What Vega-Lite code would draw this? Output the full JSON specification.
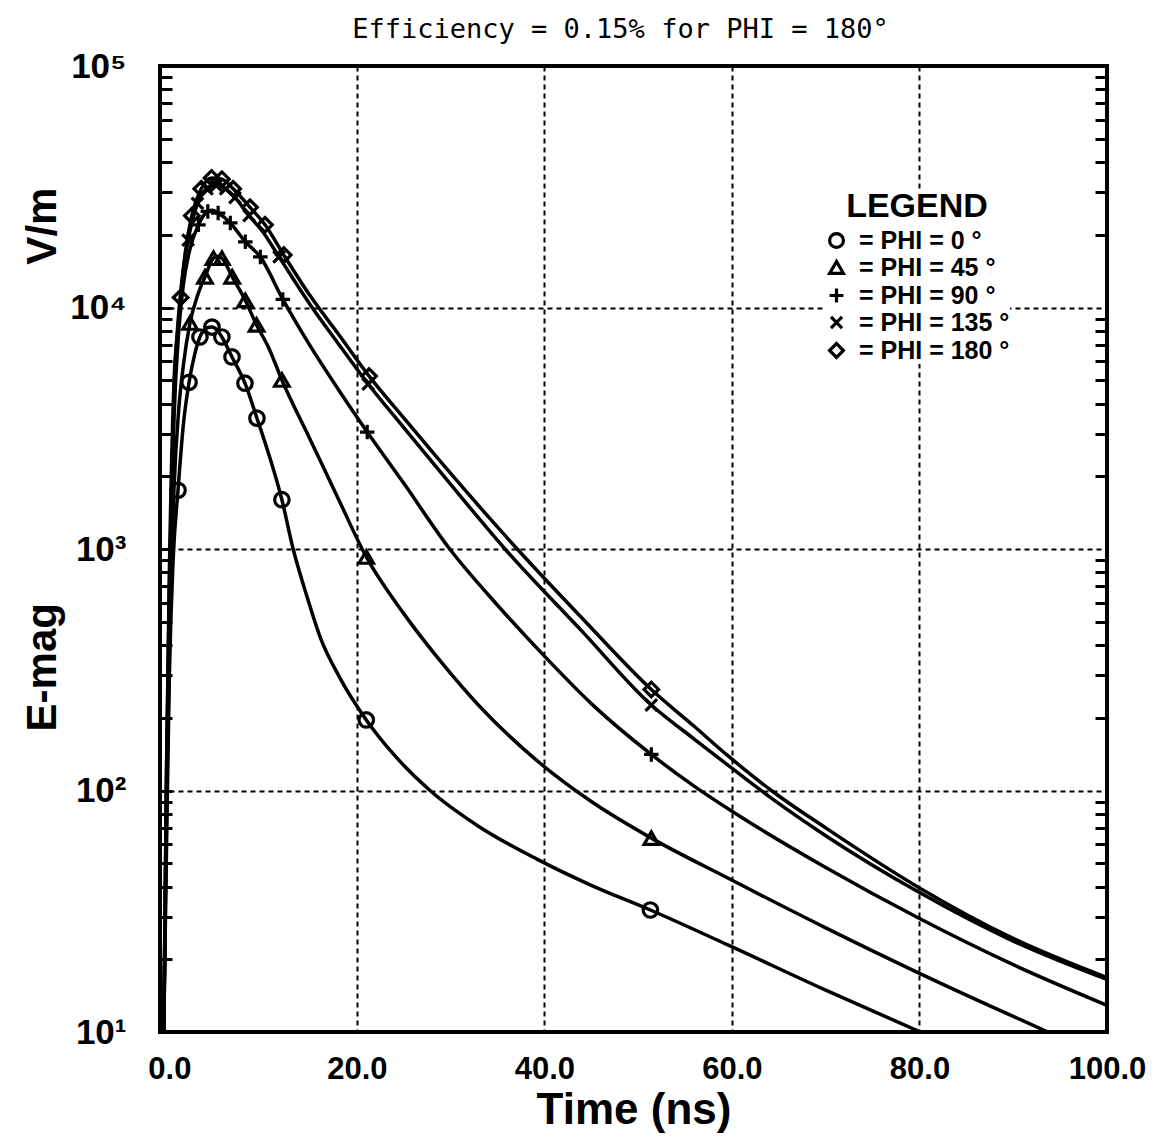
{
  "$schema": "https://vega.github.io/schema/vega-lite/v6.json",
  "width": 947,
  "height": 966,
  "autosize": {"type": "none"},
  "padding": {"left": 160, "top": 66, "right": 50, "bottom": 116},
  "background": "white",
  "title": {"text": "Efficiency = 0.15% for PHI = 180°", "font": "DejaVu Sans Mono", "fontSize": 27, "fontWeight": "normal", "color": "black", "anchor": "middle", "baseline": "bottom", "offset": -22, "dx": -13},
  "config": {"view": {"stroke": "black", "strokeWidth": 4}},
  "datasets": {
    "curves": [
      {"t": -0.6, "phi": 0, "v": 10}, {"t": -0.3, "phi": 0, "v": 60}, {"t": 0.0, "phi": 0, "v": 300}, {"t": 0.4, "phi": 0, "v": 900}, {"t": 0.92, "phi": 0, "v": 1750}, {"t": 1.5, "phi": 0, "v": 3300}, {"t": 2.1, "phi": 0, "v": 4900}, {"t": 2.7, "phi": 0, "v": 6400}, {"t": 3.26, "phi": 0, "v": 7550}, {"t": 3.9, "phi": 0, "v": 8200}, {"t": 4.54, "phi": 0, "v": 8300}, {"t": 5.1, "phi": 0, "v": 8050}, {"t": 5.6, "phi": 0, "v": 7550}, {"t": 6.68, "phi": 0, "v": 6240}, {"t": 8.06, "phi": 0, "v": 4860}, {"t": 9.34, "phi": 0, "v": 3480}, {"t": 10.7, "phi": 0, "v": 2400}, {"t": 12.0, "phi": 0, "v": 1600}, {"t": 13.2, "phi": 0, "v": 1000}, {"t": 14.6, "phi": 0, "v": 650}, {"t": 16.1, "phi": 0, "v": 430}, {"t": 18.2, "phi": 0, "v": 292}, {"t": 21.0, "phi": 0, "v": 196}, {"t": 24, "phi": 0, "v": 140}, {"t": 27.8, "phi": 0, "v": 100}, {"t": 33, "phi": 0, "v": 71}, {"t": 39.2, "phi": 0, "v": 52}, {"t": 45, "phi": 0, "v": 40.5}, {"t": 51.3, "phi": 0, "v": 32}, {"t": 59.5, "phi": 0, "v": 23}, {"t": 70, "phi": 0, "v": 14.9}, {"t": 80.1, "phi": 0, "v": 10},
      {"t": -0.6, "phi": 45, "v": 10}, {"t": -0.3, "phi": 45, "v": 80}, {"t": 0.0, "phi": 45, "v": 400}, {"t": 0.5, "phi": 45, "v": 1800}, {"t": 1.0, "phi": 45, "v": 3800}, {"t": 1.5, "phi": 45, "v": 5800}, {"t": 2.2, "phi": 45, "v": 8630}, {"t": 3.0, "phi": 45, "v": 11200}, {"t": 3.8, "phi": 45, "v": 13400}, {"t": 4.7, "phi": 45, "v": 16000}, {"t": 5.2, "phi": 45, "v": 16300}, {"t": 5.6, "phi": 45, "v": 16000}, {"t": 6.7, "phi": 45, "v": 13400}, {"t": 8.1, "phi": 45, "v": 10700}, {"t": 9.3, "phi": 45, "v": 8470}, {"t": 10.6, "phi": 45, "v": 6800}, {"t": 12.0, "phi": 45, "v": 5010}, {"t": 15, "phi": 45, "v": 2850}, {"t": 18, "phi": 45, "v": 1620}, {"t": 21.0, "phi": 45, "v": 927}, {"t": 25, "phi": 45, "v": 540}, {"t": 29, "phi": 45, "v": 340}, {"t": 33, "phi": 45, "v": 225}, {"t": 39.2, "phi": 45, "v": 133}, {"t": 45, "phi": 45, "v": 90}, {"t": 51.4, "phi": 45, "v": 63.5}, {"t": 59.5, "phi": 45, "v": 43.5}, {"t": 70, "phi": 45, "v": 27}, {"t": 80, "phi": 45, "v": 17.5}, {"t": 93.7, "phi": 45, "v": 10},
      {"t": -0.6, "phi": 90, "v": 10}, {"t": -0.3, "phi": 90, "v": 100}, {"t": 0.0, "phi": 90, "v": 600}, {"t": 0.5, "phi": 90, "v": 3500}, {"t": 1.0, "phi": 90, "v": 8000}, {"t": 1.5, "phi": 90, "v": 12500}, {"t": 2.2, "phi": 90, "v": 17500}, {"t": 3.1, "phi": 90, "v": 22000}, {"t": 4.1, "phi": 90, "v": 25000}, {"t": 4.6, "phi": 90, "v": 25300}, {"t": 5.2, "phi": 90, "v": 24600}, {"t": 6.5, "phi": 90, "v": 22400}, {"t": 8.1, "phi": 90, "v": 18700}, {"t": 9.7, "phi": 90, "v": 16200}, {"t": 12.1, "phi": 90, "v": 10800}, {"t": 15, "phi": 90, "v": 6950}, {"t": 18, "phi": 90, "v": 4590}, {"t": 21.1, "phi": 90, "v": 3050}, {"t": 25, "phi": 90, "v": 1870}, {"t": 29.9, "phi": 90, "v": 1000}, {"t": 35, "phi": 90, "v": 585}, {"t": 40, "phi": 90, "v": 360}, {"t": 45, "phi": 90, "v": 229}, {"t": 51.4, "phi": 90, "v": 141}, {"t": 56, "phi": 90, "v": 104}, {"t": 60, "phi": 90, "v": 82}, {"t": 70, "phi": 90, "v": 48}, {"t": 80, "phi": 90, "v": 29.5}, {"t": 90, "phi": 90, "v": 19}, {"t": 100, "phi": 90, "v": 12.9},
      {"t": -0.6, "phi": 135, "v": 10}, {"t": -0.3, "phi": 135, "v": 120}, {"t": 0.0, "phi": 135, "v": 700}, {"t": 0.5, "phi": 135, "v": 4500}, {"t": 1.0, "phi": 135, "v": 9500}, {"t": 1.5, "phi": 135, "v": 14500}, {"t": 2.0, "phi": 135, "v": 19000}, {"t": 3.0, "phi": 135, "v": 27000}, {"t": 4.0, "phi": 135, "v": 31000}, {"t": 5.0, "phi": 135, "v": 32000}, {"t": 6.0, "phi": 135, "v": 31000}, {"t": 7.0, "phi": 135, "v": 28500}, {"t": 8.5, "phi": 135, "v": 24000}, {"t": 10.0, "phi": 135, "v": 20500}, {"t": 11.7, "phi": 135, "v": 16200}, {"t": 15, "phi": 135, "v": 10300}, {"t": 18, "phi": 135, "v": 7100}, {"t": 21.2, "phi": 135, "v": 4820}, {"t": 25, "phi": 135, "v": 3180}, {"t": 30, "phi": 135, "v": 1850}, {"t": 35.8, "phi": 135, "v": 1000}, {"t": 44, "phi": 135, "v": 457}, {"t": 51.4, "phi": 135, "v": 226}, {"t": 56, "phi": 135, "v": 163}, {"t": 59.5, "phi": 135, "v": 128}, {"t": 64.2, "phi": 135, "v": 93}, {"t": 70, "phi": 135, "v": 65}, {"t": 80, "phi": 135, "v": 37.8}, {"t": 90, "phi": 135, "v": 23.8}, {"t": 100, "phi": 135, "v": 16.5},
      {"t": -0.6, "phi": 180, "v": 10}, {"t": -0.3, "phi": 180, "v": 130}, {"t": 0.0, "phi": 180, "v": 800}, {"t": 0.5, "phi": 180, "v": 5000}, {"t": 0.9, "phi": 180, "v": 8000}, {"t": 1.2, "phi": 180, "v": 11000}, {"t": 1.7, "phi": 180, "v": 17000}, {"t": 2.4, "phi": 180, "v": 24000}, {"t": 3.4, "phi": 180, "v": 31000}, {"t": 4.5, "phi": 180, "v": 34400}, {"t": 5.6, "phi": 180, "v": 34000}, {"t": 6.8, "phi": 180, "v": 31000}, {"t": 8.6, "phi": 180, "v": 26000}, {"t": 10.2, "phi": 180, "v": 22000}, {"t": 12.2, "phi": 180, "v": 16500}, {"t": 15, "phi": 180, "v": 11200}, {"t": 18, "phi": 180, "v": 7780}, {"t": 21.3, "phi": 180, "v": 5200}, {"t": 25, "phi": 180, "v": 3490}, {"t": 30, "phi": 180, "v": 2055}, {"t": 37.1, "phi": 180, "v": 1000}, {"t": 44, "phi": 180, "v": 518}, {"t": 51.4, "phi": 180, "v": 262}, {"t": 56, "phi": 180, "v": 184}, {"t": 59.5, "phi": 180, "v": 140}, {"t": 64.2, "phi": 180, "v": 100}, {"t": 70, "phi": 180, "v": 70}, {"t": 80, "phi": 180, "v": 39.5}, {"t": 90, "phi": 180, "v": 24.4}, {"t": 100, "phi": 180, "v": 16.8}
    ],
    "markers": [
      {"t": 0.92, "phi": 0, "v": 1750}, {"t": 2.1, "phi": 0, "v": 4900}, {"t": 3.26, "phi": 0, "v": 7550}, {"t": 4.54, "phi": 0, "v": 8300}, {"t": 5.6, "phi": 0, "v": 7550}, {"t": 6.68, "phi": 0, "v": 6240}, {"t": 8.06, "phi": 0, "v": 4860}, {"t": 9.34, "phi": 0, "v": 3480}, {"t": 12.0, "phi": 0, "v": 1600}, {"t": 21.0, "phi": 0, "v": 196}, {"t": 51.3, "phi": 0, "v": 32},
      {"t": 2.2, "phi": 45, "v": 8630}, {"t": 3.8, "phi": 45, "v": 13400}, {"t": 4.7, "phi": 45, "v": 16000}, {"t": 5.6, "phi": 45, "v": 16000}, {"t": 6.7, "phi": 45, "v": 13400}, {"t": 8.1, "phi": 45, "v": 10700}, {"t": 9.3, "phi": 45, "v": 8470}, {"t": 12.0, "phi": 45, "v": 5010}, {"t": 21.0, "phi": 45, "v": 927}, {"t": 51.4, "phi": 45, "v": 63.5},
      {"t": 3.1, "phi": 90, "v": 22000}, {"t": 4.1, "phi": 90, "v": 25000}, {"t": 5.2, "phi": 90, "v": 24600}, {"t": 6.5, "phi": 90, "v": 22400}, {"t": 8.1, "phi": 90, "v": 18700}, {"t": 9.7, "phi": 90, "v": 16200}, {"t": 12.1, "phi": 90, "v": 10800}, {"t": 21.1, "phi": 90, "v": 3050}, {"t": 51.4, "phi": 90, "v": 141},
      {"t": 2.0, "phi": 135, "v": 19000}, {"t": 3.0, "phi": 135, "v": 27000}, {"t": 4.0, "phi": 135, "v": 31000}, {"t": 5.0, "phi": 135, "v": 32000}, {"t": 6.0, "phi": 135, "v": 31000}, {"t": 7.0, "phi": 135, "v": 28500}, {"t": 8.5, "phi": 135, "v": 24000}, {"t": 11.7, "phi": 135, "v": 16200}, {"t": 21.2, "phi": 135, "v": 4820}, {"t": 51.4, "phi": 135, "v": 226},
      {"t": 1.2, "phi": 180, "v": 11000}, {"t": 2.4, "phi": 180, "v": 24000}, {"t": 3.4, "phi": 180, "v": 31000}, {"t": 4.5, "phi": 180, "v": 34400}, {"t": 5.6, "phi": 180, "v": 34000}, {"t": 6.8, "phi": 180, "v": 31000}, {"t": 8.6, "phi": 180, "v": 26000}, {"t": 10.2, "phi": 180, "v": 22000}, {"t": 12.2, "phi": 180, "v": 16500}, {"t": 21.3, "phi": 180, "v": 5200}, {"t": 51.4, "phi": 180, "v": 262}
    ]
  },
  "layer": [
    {
      "data": {"name": "curves"},
      "mark": {"type": "line", "interpolate": "monotone", "color": "black", "strokeWidth": 3.5, "clip": true},
      "encoding": {
        "x": {
          "field": "t", "type": "quantitative",
          "scale": {"domain": [-1, 100], "nice": false, "zero": false},
          "axis": {
            "orient": "bottom", "values": [0, 20, 40, 60, 80, 100], "format": ".1f",
            "domain": false, "ticks": false, "labelPadding": 22,
            "labelFont": "Liberation Sans", "labelFontSize": 31, "labelFontWeight": "bold", "labelColor": "black",
            "labelFlush": false,
            "grid": true, "gridColor": "black", "gridWidth": 2, "gridDash": [5, 4],
            "gridOpacity": {"condition": {"test": "datum.value > 0 && datum.value < 100", "value": 1}, "value": 0},
            "title": "Time (ns)", "titleFont": "Liberation Sans", "titleFontSize": 44, "titleFontWeight": "bold", "titleColor": "black", "titlePadding": 4
          }
        },
        "y": {
          "field": "v", "type": "quantitative",
          "scale": {"type": "log", "domain": [10, 100000], "nice": false},
          "axis": {
            "orient": "left",
            "values": [10, 20, 30, 40, 50, 60, 70, 80, 90, 100, 200, 300, 400, 500, 600, 700, 800, 900, 1000, 2000, 3000, 4000, 5000, 6000, 7000, 8000, 9000, 10000, 20000, 30000, 40000, 50000, 60000, 70000, 80000, 90000, 100000],
            "labelExpr": "datum.value == 10 ? '10¹' : datum.value == 100 ? '10²' : datum.value == 1000 ? '10³' : datum.value == 10000 ? '10⁴' : datum.value == 100000 ? '10⁵' : ''",
            "domain": false, "ticks": true, "tickSize": -12, "tickWidth": 3, "tickColor": "black",
            "labelPadding": 46, "labelFont": "Liberation Sans", "labelFontSize": 35, "labelFontWeight": "bold", "labelColor": "black", "labelFlush": false, "labelOverlap": false,
            "grid": true, "gridColor": "black", "gridWidth": 2, "gridDash": [5, 4],
            "gridOpacity": {"condition": {"test": "indexof([100, 1000, 10000], datum.value) >= 0", "value": 1}, "value": 0},
            "title": "E-mag\u00a0\u00a0\u00a0\u00a0\u00a0\u00a0\u00a0\u00a0\u00a0\u00a0\u00a0\u00a0\u00a0\u00a0\u00a0\u00a0\u00a0\u00a0\u00a0\u00a0\u00a0\u00a0\u00a0\u00a0\u00a0\u00a0\u00a0\u00a0\u00a0V/m",
            "titleFont": "Liberation Sans", "titleFontSize": 42, "titleFontWeight": "bold", "titleColor": "black",
            "titleAngle": 270, "titleAlign": "center", "titleBaseline": "middle", "titleX": -118, "titleY": 393
          }
        },
        "detail": {"field": "phi", "type": "nominal"}
      }
    },
    {
      "data": {"name": "markers"},
      "mark": {"type": "point", "filled": false, "color": "black", "strokeWidth": 3.2, "size": 210, "opacity": 1, "clip": true},
      "encoding": {
        "x": {"field": "t", "type": "quantitative"},
        "y": {
          "field": "v", "type": "quantitative",
          "axis": {
            "orient": "right",
            "values": [20, 30, 40, 50, 60, 70, 80, 90, 200, 300, 400, 500, 600, 700, 800, 900, 2000, 3000, 4000, 5000, 6000, 7000, 8000, 9000, 20000, 30000, 40000, 50000, 60000, 70000, 80000, 90000],
            "labels": false, "domain": false, "grid": false, "title": null,
            "ticks": true, "tickSize": -12, "tickWidth": 3, "tickColor": "black"
          }
        },
        "shape": {
          "field": "phi", "type": "nominal",
          "scale": {"domain": [0, 45, 90, 135, 180], "range": ["circle", "triangle-up", "M-1,0L1,0M0,-1L0,1", "M-0.8,-0.8L0.8,0.8M-0.8,0.8L0.8,-0.8", "diamond"]},
          "legend": {
            "orient": "none", "legendX": 664, "legendY": 124,
            "title": "LEGEND", "titleFont": "Liberation Sans", "titleFontSize": 34, "titleFontWeight": "bold", "titleColor": "black", "titleAnchor": "middle", "titlePadding": 4,
            "labelExpr": "'= PHI = ' + datum.label + ' °'",
            "labelFont": "Liberation Sans", "labelFontSize": 25, "labelFontWeight": "bold", "labelColor": "black", "labelOffset": 10,
            "symbolSize": 190, "symbolStrokeWidth": 3.2, "symbolStrokeColor": "black", "symbolFillColor": "transparent", "symbolOpacity": 1,
            "rowPadding": 1, "fillColor": "white", "padding": 0
          }
        }
      }
    }
  ],
  "resolve": {"axis": {"y": "independent"}}
}
